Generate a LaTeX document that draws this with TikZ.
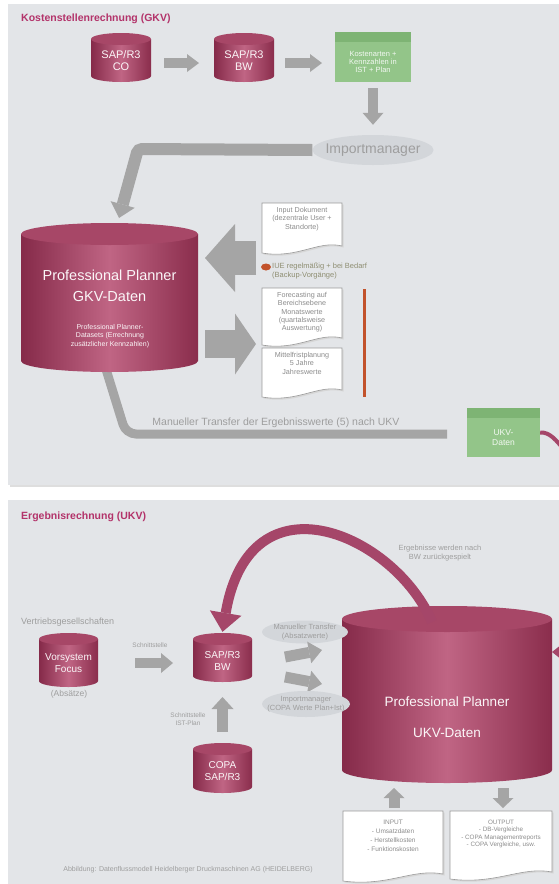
\documentclass[tikz,border=0pt]{standalone}
\usepackage{fontspec}
\setmainfont{Liberation Sans}
\usetikzlibrary{arrows.meta,shapes.geometric}
\definecolor{panel}{HTML}{E3E5E8}
\definecolor{cylL}{HTML}{852A49}
\definecolor{cylM}{HTML}{C06584}
\definecolor{cylR}{HTML}{8A2D4C}
\definecolor{cylT}{HTML}{A74767}
\definecolor{garrow}{HTML}{A5A5A5}
\definecolor{gtext}{HTML}{9E9E9E}
\definecolor{ellfill}{HTML}{D3D6DA}
\definecolor{grn}{HTML}{93C589}
\definecolor{grnD}{HTML}{7EB474}
\definecolor{ttl}{HTML}{B3336A}
\definecolor{orng}{HTML}{C2522B}
\definecolor{mag}{HTML}{A54669}
\definecolor{olive}{HTML}{8E8E72}
\definecolor{docline}{HTML}{9A9A9A}
\definecolor{doctxt}{HTML}{8C8C8C}

\tikzset{
  fnt/.style 2 args={font=\fontsize{#1}{#2}\selectfont},
  garr/.style n args={3}{draw=garrow, line width=#1, -{Triangle[width=#2,length=#3,line width=0pt]}},
  cyltext/.style={text=white!94!cylM, align=center, inner sep=0pt},
  gbox/.style={rectangle, fill=grn, inner sep=0pt},
  gtxt/.style={text=white!88!grn, align=center, inner sep=0pt, fnt={7.5}{8.3}},
  ell/.style={ellipse, fill=ellfill, inner sep=0pt},
  etext/.style={text=gtext, align=center, inner sep=0pt},
  titl/.style={text=ttl, font=\fontsize{10.5}{12}\selectfont\bfseries, anchor=west, inner sep=0pt},
  docbody/.style={fill=white, draw=docline, line width=0.6pt},
  docsh/.style={fill=black!16},
  doctext/.style={text=doctxt, align=center, inner sep=0pt, fnt={7.2}{8.3}},
  gtxtl/.style={text=gtext, inner sep=0pt}
}

% cylinder: name, x1, top, x2, bottom, ry, node options, text
\newcommand\dbcyl[8]{%
  \pgfmathsetmacro\cylcx{(#2+#4)/2}%
  \pgfmathsetmacro\cylrx{(#4-#2)/2}%
  \pgfmathsetmacro\cylyt{#3+#6}%
  \pgfmathsetmacro\cylyb{#5-#6}%
  \pgfmathsetmacro\cylh{#5-\cylyt}%
  \pgfmathsetmacro\cylw{#4-#2}%
  \shade[left color=cylL,right color=cylR,middle color=cylM]
    (#2,\cylyt) -- (#2,\cylyb) arc[start angle=180,end angle=360,x radius=\cylrx pt,y radius=#6pt] -- (#4,\cylyt) -- cycle;
  \fill[cylT] (\cylcx,\cylyt) ellipse[x radius=\cylrx pt,y radius=#6pt];
  \node[cyltext,minimum width=\cylw pt,minimum height=\cylh pt,#7] (#1) at (\cylcx,{(\cylyt+#5)/2}) {#8};%
}

% document: name, x1, top, x2, bottom-left, node options, text
\newcommand\docnode[7]{%
  \pgfmathsetmacro\docw{#4-#2}%
  \fill[docsh,xshift=1.5pt,yshift=-1.5pt] (#2,#3) -- (#4,#3) -- (#4,{#5-7}) .. controls ({#4-0.3*\docw},{#5-13}) and ({#2+0.45*\docw},{#5+6}) .. (#2,#5) -- cycle;
  \filldraw[docbody] (#2,#3) -- (#4,#3) -- (#4,{#5-7}) .. controls ({#4-0.3*\docw},{#5-13}) and ({#2+0.45*\docw},{#5+6}) .. (#2,#5) -- cycle;
  \node[doctext,#6,anchor=north] (#1) at ({(#2+#4)/2},{#3+4}) {#7};%
}

\begin{document}
\begin{tikzpicture}[x=1pt,y=-1pt]
\useasboundingbox (0,0) rectangle (558,884);
\fill[white] (0,0) rectangle (558,884);
% panels
\fill[black!13] (9.5,6) rectangle (560,487);
\fill[panel] (8,4) rectangle (560,485);
\fill[black!13] (9.5,502) rectangle (560,886);
\fill[panel] (8,500) rectangle (560,886);

\node[titl] (t1) at (21,19) {Kostenstellenrechnung (GKV)};
\node[titl] (t2) at (21,517) {Ergebnisrechnung (UKV)};

% ---------- top panel ----------
\dbcyl{co}{91}{33}{151}{82}{6}{fnt={11}{12.5}}{SAP/R3\\CO}
\dbcyl{bw}{214}{33}{274}{82}{6}{fnt={11}{12.5}}{SAP/R3\\BW}
\node[gbox, minimum width=76pt, minimum height=50pt] (kost) at (373,57) {};
\fill[grnD] (kost.north west) rectangle ([yshift=-10pt]kost.north east);
\node[gtxt] (kostT) at (373,62) {Kostenarten +\\Kennzahlen in\\IST + Plan};

\coordinate (a1s) at (164,63); \coordinate (a1e) at (199,63);
\coordinate (a2s) at (285,63); \coordinate (a2e) at (322,63);
\draw[garr={10pt}{18pt}{12pt}] (a1s) -- (a1e);
\draw[garr={10pt}{18pt}{12pt}] (a2s) -- (a2e);

\node[ell, minimum width=121pt, minimum height=30pt] (imp) at (373,150) {};
\node[etext, fnt={14}{16}] (impT) at (imp.center) {Importmanager};
\draw[garr={10pt}{21pt}{12pt}] ([yshift=-6pt]kost.south) -- ([yshift=10pt]imp.north);

\coordinate (bend1) at (138,149);
\coordinate (gkvin) at (119,218);
\draw[garrow, line width=12pt, rounded corners=4pt, -{Triangle[width=25pt,length=14pt,line width=0pt]}] (imp.west) -- (bend1) -- (gkvin);

% bottom band (drawn before the cylinder)
\coordinate (gkvout) at (105,366);
\coordinate (bend2) at (126,434);
\coordinate (ukvin) at (447,434);
\draw[garrow, line width=9pt, rounded corners=10pt] (gkvout) -- (bend2) -- (ukvin);

\dbcyl{gkv}{21}{223}{198}{372}{11}{fnt={14.5}{21}, yshift=17pt}{Professional Planner\\GKV-Daten}
\node[cyltext, fnt={7}{8.8}] (gkvS) at (110,336) {Professional Planner-\\Datasets (Errechnung\\zusätzlicher Kennzahlen)};

\coordinate (inA) at (256,258); \coordinate (inB) at (205,258);
\draw[garr={34pt}{68pt}{30pt}] (inA) -- (inB);
\coordinate (outA) at (205,344); \coordinate (outB) at (256,344);
\draw[garr={28pt}{61pt}{21pt}] (outA) -- (outB);

\docnode{indoc}{262}{203}{342}{253}{}{Input Dokument\\(dezentrale User +\\Standorte)}
\docnode{fcdoc}{262}{288}{342}{345}{}{Forecasting auf\\Bereichsebene\\Monatswerte\\(quartalsweise\\Auswertung)}
\docnode{mfdoc}{262}{348}{342}{397}{}{Mittelfristplanung\\5 Jahre\\Jahreswerte}

\node[ellipse, fill=orng, minimum width=10pt, minimum height=7pt, inner sep=0pt] (dot) at (266,267) {};
\node[anchor=north west, fnt={7.5}{9}, text=olive, align=left, inner sep=0pt] (iue) at (272,263) {IUE regelmäßig + bei Bedarf\\(Backup-Vorgänge)};
\draw[orng, line width=3pt] (364,289) -- (364,397);

\node[gtxtl, fnt={10.5}{12}] (mt) at (276,423) {Manueller Transfer der Ergebnisswerte (5) nach UKV};

\node[gbox, minimum width=73pt, minimum height=49pt] (ukvbox) at (503.5,432.5) {};
\fill[grnD] (ukvbox.north west) rectangle ([yshift=-10pt]ukvbox.north east);
\node[gtxt, fnt={8.5}{10}] (ukvT) at (503.5,438) {UKV-\\Daten};
\coordinate (offR) at (566,452);
\draw[mag, line width=4pt] (ukvbox.east) .. controls (550,432) and (556,440) .. (offR);

% ---------- bottom panel ----------
\node[gtxtl, anchor=west, fnt={9}{11}] (vg) at (21,622) {Vertriebsgesellschaften};
\dbcyl{vor}{39}{633}{98}{687}{6}{fnt={10}{12}}{Vorsystem\\Focus}
\node[gtxtl, fnt={8.5}{10}] (abs) at (69,694) {(Absätze)};
\node[gtxtl, fnt={6.5}{8}] (sst) at (150,645) {Schnittstelle};
\dbcyl{bw2}{193}{633}{252}{682}{6}{fnt={10}{12}}{SAP/R3\\BW}
\coordinate (a3s) at (135,663); \coordinate (a3e) at (173,663);
\draw[garr={10pt}{20pt}{12pt}] (a3s) -- (a3e);

\dbcyl{copa}{193}{743}{252}{793}{6}{fnt={10}{12}}{COPA\\SAP/R3}
\node[gtxtl, align=center, fnt={6.5}{8}] (sst2) at (188,719) {Schnittstelle\\IST-Plan};
\coordinate (a4s) at (222.5,732); \coordinate (a4e) at (222.5,697);
\draw[garr={11pt}{22pt}{12pt}] (a4s) -- (a4e);

\dbcyl{ukv}{342}{606}{552}{783}{13}{fnt={13.5}{16}, yshift=-16pt}{Professional Planner\\[15pt]UKV-Daten}

\coordinate (arcS) at (432,622);
\draw[mag, line width=10pt, -{Triangle[width=32pt,length=19pt,line width=0pt]}] (arcS) .. controls (395,535) and (250,470) .. ([yshift=7pt]bw2.north);
\node[gtxtl, align=center, fnt={7.5}{9}] (erg) at (440,553) {Ergebnisse werden nach\\BW zurückgespielt};

\node[ell, minimum width=86pt, minimum height=23pt] (mtr) at (305,632) {};
\node[etext, fnt={7.5}{8.5}] (mtrT) at (mtr.center) {Manueller Transfer\\(Absatzwerte)};
\coordinate (a5s) at (285,657); \coordinate (a5e) at (322,650);
\coordinate (a6s) at (285,677); \coordinate (a6e) at (322,684);
\draw[garr={11pt}{22pt}{13pt}] (a5s) -- (a5e);
\draw[garr={11pt}{22pt}{13pt}] (a6s) -- (a6e);
\node[ell, minimum width=88pt, minimum height=26pt] (imp2) at (306,704) {};
\node[etext, fnt={7.5}{8.5}] (imp2T) at (imp2.center) {Importmanager\\(COPA Werte Plan+Ist)};

\coordinate (back1) at (568,652); \coordinate (back2) at (552,652);
\draw[mag, line width=4pt, -{Triangle[width=11pt,length=7pt,line width=0pt]}] (back1) -- (back2);

\coordinate (a7s) at (394,808); \coordinate (a7e) at (394,788);
\coordinate (a8s) at (503,788); \coordinate (a8e) at (503,808);
\draw[garr={11pt}{21pt}{10pt}] (a7s) -- (a7e);
\draw[garr={11pt}{21pt}{10pt}] (a8s) -- (a8e);

\docnode{indoc2}{343}{811}{443}{881}{fnt={6.5}{9}, yshift=-5pt}{INPUT\\- Umsatzdaten\\- Herstellkosten\\- Funktionskosten}
\docnode{outdoc}{450}{811}{552}{879}{fnt={6.3}{7.2}, yshift=-5pt}{OUTPUT\\- DB-Vergleiche\\- COPA Managementreports\\- COPA Vergleiche, usw.}

\node[gtxtl, fnt={7}{8}] (cap) at (188,870) {Abbildung: Datenflussmodell Heidelberger Druckmaschinen AG (HEIDELBERG)};
\end{tikzpicture}
\end{document}
